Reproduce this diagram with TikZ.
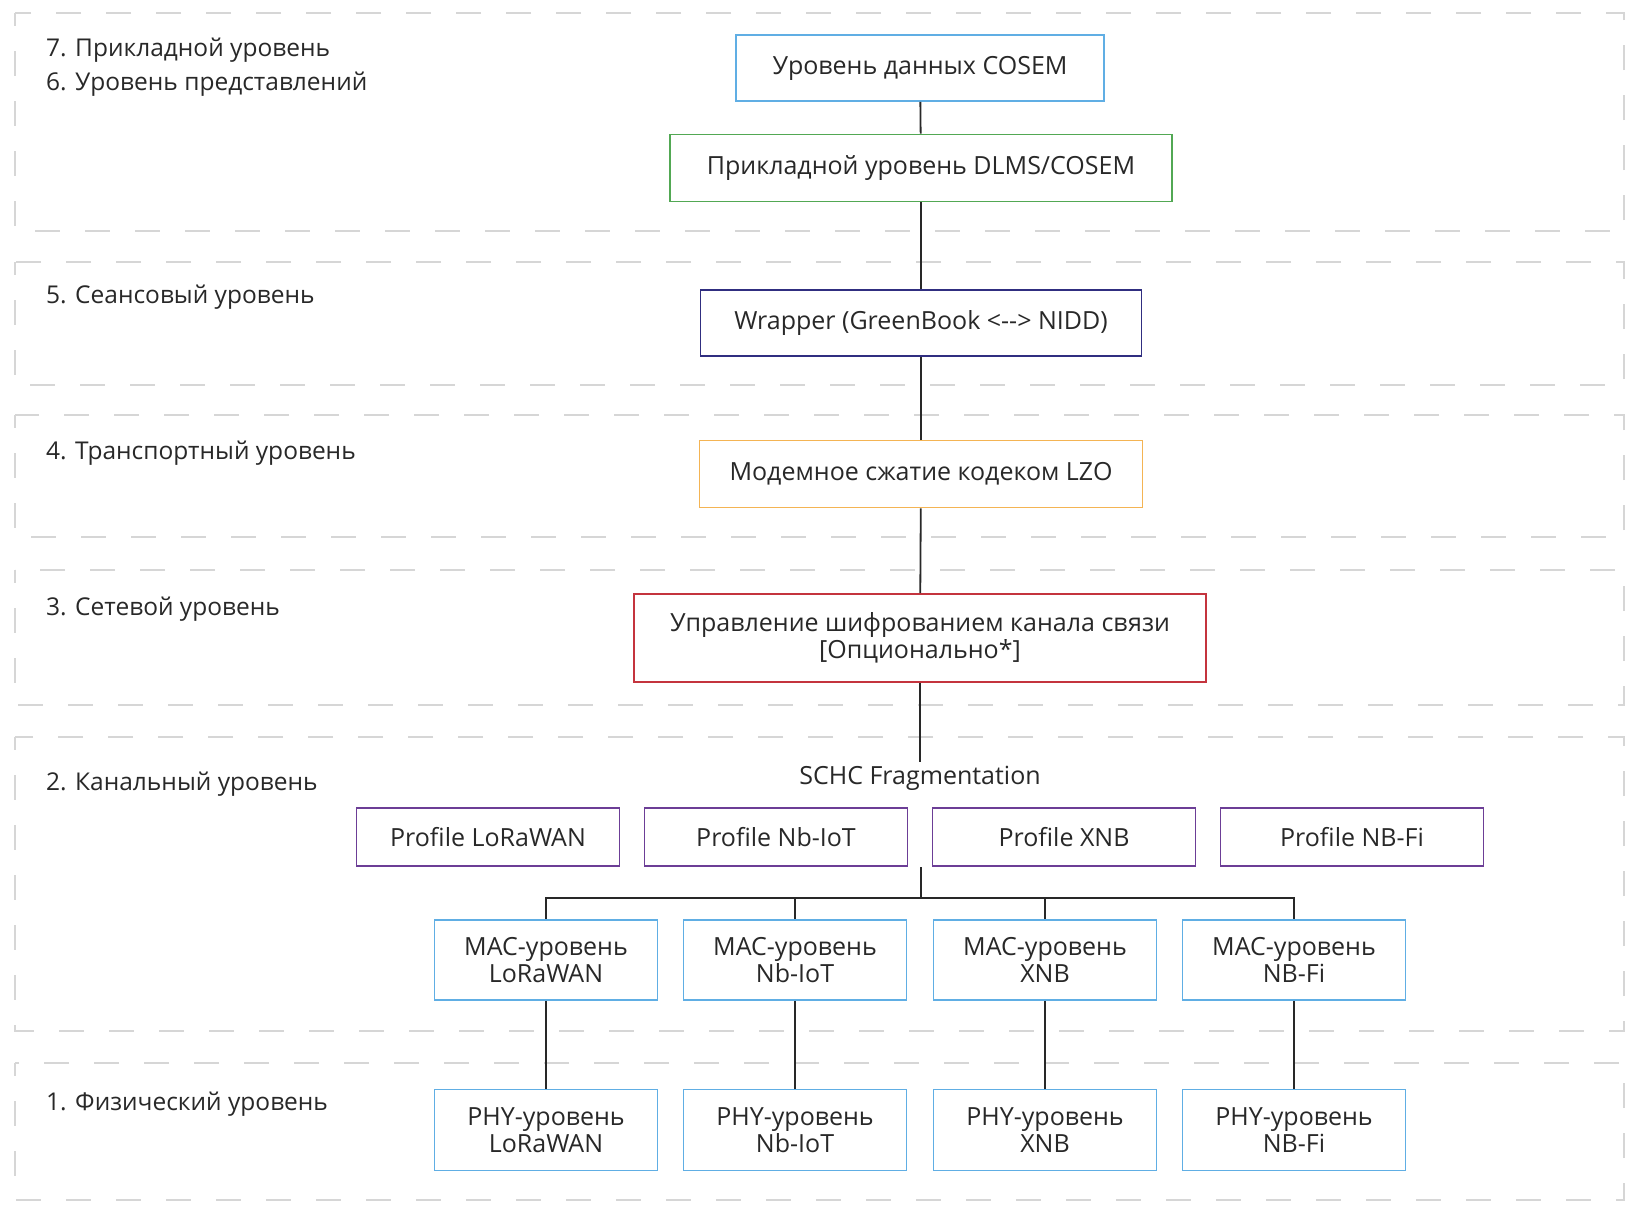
\documentclass[tikz,border=0pt]{standalone}
\usepackage{fontspec}
\setmainfont{Open Sans}
\definecolor{txt}{RGB}{40,40,40}
\definecolor{cblue}{RGB}{96,174,228}
\definecolor{cgreen}{RGB}{82,168,84}
\definecolor{cnavy}{RGB}{48,46,128}
\definecolor{corange}{RGB}{244,180,84}
\definecolor{cred}{RGB}{196,52,62}
\definecolor{cpurple}{RGB}{108,62,150}
\tikzstyle{band}=[draw=black!16,line width=1.8pt,dash pattern=on 25pt off 25pt,dash phase=12pt]
\tikzstyle{lvl}=[anchor=west,text=txt,inner sep=0pt,font=\fontsize{24.5}{27.5}\selectfont]
\tikzstyle{bx}=[draw,line width=1.6pt,align=center,text=txt,inner sep=2pt,font=\fontsize{25}{27.5}\selectfont]
\tikzstyle{ln}=[draw=txt,line width=1.8pt]

\begin{document}
\begin{tikzpicture}[x=1pt,y=-1pt]
\useasboundingbox (0,0) rectangle (1646,1208);
% layer bands
\draw[band] (15,13) rectangle (1624,231);
\draw[band] (15,262) rectangle (1624,385);
\draw[band] (15,415) rectangle (1624,537);
\draw[band] (15,570) rectangle (1624,705);
\draw[band] (15,737) rectangle (1624,1031);
\draw[band] (15,1063) rectangle (1624,1200);
% OSI levels
\node[lvl] (l7) at (46,50) {7. Прикладной уровень};
\node[lvl] (l6) at (46,84) {6. Уровень представлений};
\node[lvl] (l5) at (46,297) {5. Сеансовый уровень};
\node[lvl] (l4) at (46,453) {4. Транспортный уровень};
\node[lvl] (l3) at (46,609) {3. Сетевой уровень};
\node[lvl] (l2) at (46,784) {2. Канальный уровень};
\node[lvl] (l1) at (46,1104) {1. Физический уровень};
% stack
\node[bx,draw=cblue,minimum width=368pt,minimum height=66pt] (cosem) at (920,68) {Уровень данных COSEM};
\node[bx,draw=cgreen,minimum width=502pt,minimum height=67pt] (dlms) at (921,168) {Прикладной уровень DLMS/COSEM};
\node[bx,draw=cnavy,minimum width=441pt,minimum height=66pt] (wrap) at (921,323) {Wrapper (GreenBook <{-}{-}> NIDD)};
\node[bx,draw=corange,minimum width=443pt,minimum height=67pt] (lzo) at (921,474) {Модемное сжатие кодеком LZO};
\node[bx,draw=cred,minimum width=572pt,minimum height=88pt] (enc) at (920,638) {Управление шифрованием канала связи\\{[Опционально*]}};
\node[text=txt,inner sep=4pt,font=\fontsize{25}{27.5}\selectfont] (schc) at (920,778) {SCHC Fragmentation};
% profiles
\node[bx,draw=cpurple,minimum width=263pt,minimum height=58pt] (p1) at (488,837) {Profile LoRaWAN};
\node[bx,draw=cpurple,minimum width=263pt,minimum height=58pt] (p2) at (776,837) {Profile Nb-IoT};
\node[bx,draw=cpurple,minimum width=263pt,minimum height=58pt] (p3) at (1064,837) {Profile XNB};
\node[bx,draw=cpurple,minimum width=263pt,minimum height=58pt] (p4) at (1352,837) {Profile NB-Fi};
% MAC
\node[bx,draw=cblue,minimum width=223pt,minimum height=80pt] (mac1) at (546,960) {MAC-уровень\\LoRaWAN};
\node[bx,draw=cblue,minimum width=223pt,minimum height=80pt] (mac2) at (795,960) {MAC-уровень\\Nb-IoT};
\node[bx,draw=cblue,minimum width=223pt,minimum height=80pt] (mac3) at (1045,960) {MAC-уровень\\XNB};
\node[bx,draw=cblue,minimum width=223pt,minimum height=80pt] (mac4) at (1294,960) {MAC-уровень\\NB-Fi};
% PHY
\node[bx,draw=cblue,minimum width=223pt,minimum height=81pt] (phy1) at (546,1130) {PHY-уровень\\LoRaWAN};
\node[bx,draw=cblue,minimum width=223pt,minimum height=81pt] (phy2) at (795,1130) {PHY-уровень\\Nb-IoT};
\node[bx,draw=cblue,minimum width=223pt,minimum height=81pt] (phy3) at (1045,1130) {PHY-уровень\\XNB};
\node[bx,draw=cblue,minimum width=223pt,minimum height=81pt] (phy4) at (1294,1130) {PHY-уровень\\NB-Fi};
% links
\draw[ln] (cosem) -- (dlms);
\draw[ln] (dlms) -- (wrap);
\draw[ln] (wrap) -- (lzo);
\draw[ln] (lzo) -- (enc);
\draw[ln] (enc) -- (schc);
\coordinate (top) at (921,867);
\coordinate (bus) at (921,898);
\draw[ln] (top) -- (bus);
\draw[ln] (bus) -| (mac1.north);
\draw[ln] (bus) -| (mac2.north);
\draw[ln] (bus) -| (mac3.north);
\draw[ln] (bus) -| (mac4.north);
\draw[ln] (mac1) -- (phy1);
\draw[ln] (mac2) -- (phy2);
\draw[ln] (mac3) -- (phy3);
\draw[ln] (mac4) -- (phy4);
\end{tikzpicture}
\end{document}
